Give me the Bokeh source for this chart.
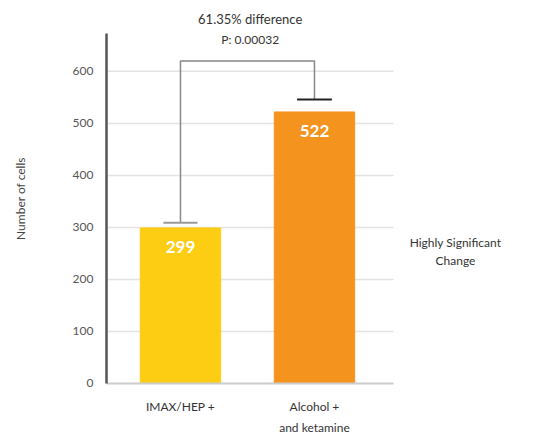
from bokeh.plotting import figure
from bokeh.models import Range1d, FixedTicker, Label, ColumnDataSource
from bokeh.embed import file_html
from bokeh.resources import INLINE
from bokeh.core.properties import value

categories = ["IMAX/HEP +", "Alcohol +\nand ketamine"]
cells = [299, 522]
err_top = [309, 546]
bar_colors = ["#FDCD14", "#F5931F"]
bracket_y = 620
diff_text = "61.35% difference"
p_text = "P: 0.00032"
note_text = "Highly Significant\nChange"
y_ticks = [0, 100, 200, 300, 400, 500, 600]
y_axis_top = 673

FONT = "Lato"
xs = [0.5 + i for i in range(len(categories))]
x_left = -0.052   # where the drawn y axis sits
x_right = 2.09    # end of the drawn x axis / grid

p = figure(width=540, height=441, output_backend="svg", toolbar_location=None,
           x_range=Range1d(-0.067, 3.127), y_range=Range1d(-5.8, 717),
           min_border_left=104, min_border_top=10, min_border_right=8,
           min_border_bottom=55)
p.outline_line_color = None
p.background_fill_color = "white"
p.xgrid.grid_line_color = None
p.ygrid.grid_line_color = None

# grid lines limited to the chart area
gy = y_ticks[1:]
p.segment(x0=[x_left] * len(gy), x1=[x_right] * len(gy), y0=gy, y1=gy,
          line_color="#e4e4e4", line_width=1.5)

src = ColumnDataSource(dict(x=xs, top=cells, color=bar_colors,
                            lab=[str(v) for v in cells],
                            ly=[v - 37 for v in cells]))
p.vbar(x="x", top="top", width=0.6, bottom=0, color="color", source=src)
p.text(x="x", y="ly", text="lab", source=src, text_color="white",
       text_align="center", text_baseline="middle",
       text_font=value(FONT), text_font_size="17px", text_font_style="bold")

# axes lines drawn by hand
p.segment(x0=[x_left], x1=[x_right], y0=[0], y1=[0], line_color="#cccccc", line_width=2)
p.segment(x0=[x_left], x1=[x_left], y0=[0], y1=[y_axis_top], line_color="#555555",
          line_width=2.5)

# significance bracket
p.line(x=[xs[0], xs[0], xs[1], xs[1]], y=[err_top[0], bracket_y, bracket_y, err_top[1]],
       line_color="#888888", line_width=1.5)
p.segment(x0=[xs[0] - 0.127], x1=[xs[0] + 0.127], y0=[err_top[0]], y1=[err_top[0]],
          line_color="#999999", line_width=2)
p.segment(x0=[xs[1] - 0.13], x1=[xs[1] + 0.13], y0=[err_top[1]], y1=[err_top[1]],
          line_color="#222222", line_width=2)

p.add_layout(Label(x=1.02, y=700, text=diff_text, text_align="center",
                   text_baseline="middle", text_font=FONT, text_font_size="13px",
                   text_color="#333333"))
p.add_layout(Label(x=1.02, y=662, text=p_text, text_align="center",
                   text_baseline="middle", text_font=FONT, text_font_size="12px",
                   text_color="#333333"))
p.add_layout(Label(x=2.552, y=254, text=note_text, text_align="center",
                   text_baseline="middle", text_font=FONT, text_font_size="12px",
                   text_color="#333333", text_line_height=1.2))

# axes
p.yaxis.ticker = FixedTicker(ticks=y_ticks)
p.yaxis.axis_line_color = None
p.yaxis.major_tick_line_color = None
p.yaxis.minor_tick_line_color = None
p.yaxis.major_label_text_font = FONT
p.yaxis.major_label_text_font_size = "12px"
p.yaxis.major_label_text_color = "#555555"
p.yaxis.major_label_standoff = 5
p.yaxis.axis_label = "Number of cells"
p.yaxis.axis_label_text_font = FONT
p.yaxis.axis_label_text_font_style = "normal"
p.yaxis.axis_label_text_font_size = "12px"
p.yaxis.axis_label_text_color = "#444444"
p.yaxis.axis_label_standoff = 42

p.xaxis.ticker = FixedTicker(ticks=xs)
p.xaxis.major_label_overrides = {x: c for x, c in zip(xs, categories)}
p.xaxis.axis_line_color = None
p.xaxis.major_tick_line_color = None
p.xaxis.minor_tick_line_color = None
p.xaxis.major_label_text_font = FONT
p.xaxis.major_label_text_font_size = "12px"
p.xaxis.major_label_text_color = "#333333"
p.xaxis.major_label_text_line_height = 1.4
p.xaxis.major_label_standoff = 6

open("out.html", "w").write(file_html(p, INLINE))
